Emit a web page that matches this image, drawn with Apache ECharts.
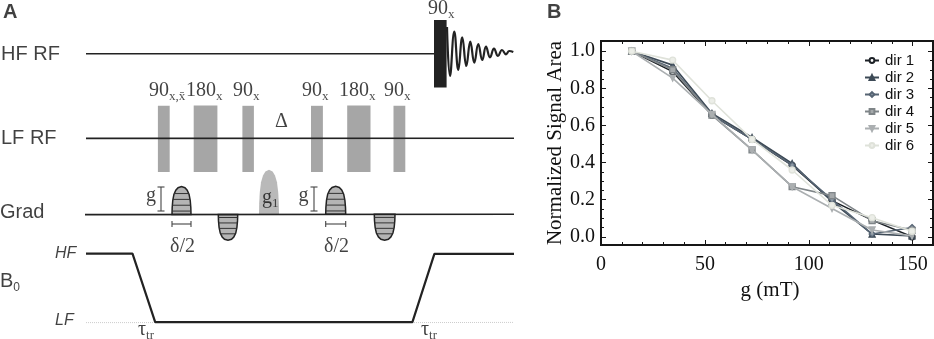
<!DOCTYPE html>
<html><head><meta charset="utf-8"><style>html,body{margin:0;padding:0;background:#fff}#c{width:934px;height:339px}</style>
<script src="https://cdn.jsdelivr.net/npm/echarts@6/dist/echarts.min.js"></script></head>
<body><div id="c"></div>
<script>
// Panel B data
const gValues = [14.8, 34.5, 53.4, 72.7, 92, 111.2, 130.5, 149.7];
const dir1 = [1, 0.89, 0.656, 0.525, 0.385, 0.195, 0.09, 0.0];
const dir2 = [1, 0.925, 0.665, 0.535, 0.395, 0.19, 0.015, 0.005];
const dir3 = [1, 0.908, 0.656, 0.525, 0.387, 0.2, 0.015, 0.05];
const dir4 = [1, 0.9, 0.656, 0.468, 0.27, 0.222, 0.087, 0.035];
const dir5 = [1, 0.855, 0.66, 0.468, 0.27, 0.153, 0.037, 0.005];
const dir6 = [1, 0.952, 0.733, 0.525, 0.36, 0.17, 0.103, 0.03];
const dirNames = ['dir 1','dir 2','dir 3','dir 4','dir 5','dir 6'];
const dirColors = ['#1c2126','#3d4a56','#566473','#7f8588','#abafb1','#dfe2da'];
const dirFills = ['#ffffff','#3d4a56','#8a97a3','#a5a9ab','#abafb1','#eceee8'];
const dirSymbols = ['circle','triangle','diamond','rect','path://M0,0L10,0L5,9Z','circle'];
const xTicks = [0,50,100,150];
const xMinor = [10,20,30,40,60,70,80,90,110,120,130,140];
const yTicks = [0,0.2,0.4,0.6,0.8,1.0];
const yMinor = [0.05,0.1,0.15,0.25,0.3,0.35,0.45,0.5,0.55,0.65,0.7,0.75,0.85,0.9,0.95];

// Panel A pulse-sequence schematic
const hfLine = [[86,53.8],[434,53.8]];
const lfLine = [[86,138.4],[514,138.2]];
const gradLine = [[85,214.6],[514,214.2]];
const b0Line = [[86,253.6],[132.5,253.6],[155.2,322.2],[412.4,322.2],[434.4,253.8],[514,253.8]];
const b0DotsL = [[86,322.6],[155,322.6]];
const b0DotsR = [[412,322.6],[514,322.4]];
const fid = [[447,27],[450,76],[454.3,31.7],[458.3,70],[462.3,37.3],[466.3,66],[470.3,41.7],[474.3,62.7],[478.3,44],[482.3,60],[486,46.7],[490,57.3],[494,48.7],[498,56],[502,50],[506,54.3],[509.3,51],[513.3,52]];
const hfPulse = [[434,446.6,20,87.5]];
const lfPulses = [[157.9,169.7,105.8,172],[193.7,217.4,105.6,172],[242.4,253.9,105.8,172],[311,322.9,105.8,172],[347.2,370.5,105.6,172],[393.5,405.3,105.8,172]];
const hatchedLobes = [[172,191,214.4,186.6],[218.3,237.7,214.4,240.3],[325.7,345.7,214.3,186.4],[374.3,395,214.3,240.3]];
const plainLobes = [[259,279,214.4,169.7]];
const lobeProfile = [[0,0],[0.01,0.25],[0.04,0.5],[0.1,0.72],[0.2,0.87],[0.32,0.96],[0.5,1],[0.68,0.96],[0.8,0.87],[0.9,0.72],[0.96,0.5],[0.99,0.25],[1,0]];
const stripeFractions = [0.12,0.33,0.54,0.75];
const brackets = [
  [[161,187],[161,211]],[[157.5,187],[164.5,187]],[[157.5,211],[164.5,211]],
  [[314,187],[314,211]],[[310.5,187],[317.5,187]],[[310.5,211],[317.5,211]],
  [[172,224],[191,224]],[[172,221],[172,227]],[[191,221],[191,227]],
  [[325.7,224],[345.7,224]],[[325.7,221],[325.7,227]],[[345.7,221],[345.7,227]]
];
const labelsA = [
  [3,12,'{b|A}'],[547,12,'{b|B}'],
  [1,53,'{t|HF RF}'],[1,137,'{t|LF RF}'],[0,211,'{t|Grad}'],[0,280,'{t|B}{ts|0}'],
  [55,253.6,'{i|HF}'],[55,321,'{i|LF}'],
  [428,8,'{m|90}{s|x}'],
  [149,90,'{m|90}{s|x,x̄}'],[186,90,'{m|180}{s|x}'],[233,90,'{m|90}{s|x}'],
  [302,90,'{m|90}{s|x}'],[339,90,'{m|180}{s|x}'],[384,90,'{m|90}{s|x}'],
  [275,121,'{m|Δ}'],
  [146,195,'{m|g}'],[298.5,195,'{m|g}'],[262,197,'{m|g}{s|1}'],
  [170,246,'{m|δ/2}'],[324,246,'{m|δ/2}'],
  [138,329,'{m|τ}{s|tr}'],[421,329,'{m|τ}{s|tr}']
];

const serif = '"Liberation Serif"', sans = '"Liberation Sans"';
const richA = {
  m:{fontFamily:serif,fontSize:20,color:'#111',lineHeight:22,verticalAlign:'bottom'},
  s:{fontFamily:serif,fontSize:13,color:'#222',lineHeight:16,verticalAlign:'bottom',padding:[0,0,-2,0]},
  t:{fontFamily:sans,fontSize:20,color:'#111',lineHeight:22,verticalAlign:'bottom'},
  ts:{fontFamily:sans,fontSize:12,color:'#111',lineHeight:16,verticalAlign:'bottom',padding:[0,0,-3,0]},
  i:{fontFamily:sans,fontStyle:'italic',fontSize:16,color:'#111'},
  b:{fontFamily:sans,fontWeight:'bold',fontSize:20,color:'#111'}
};

function profileAt(f){
  for(let i=1;i<=6;i++){
    const a=lobeProfile[i-1],b=lobeProfile[i];
    if(f<=b[1]) return a[0]+(b[0]-a[0])*(f-a[1])/(b[1]-a[1]);
  }
  return 0.5;
}
function rectItem(fill){
  return (p,api)=>{
    const a=api.coord([api.value(0),api.value(2)]),b=api.coord([api.value(1),api.value(3)]);
    return {type:'rect',shape:{x:a[0],y:a[1],width:b[0]-a[0],height:b[1]-a[1]},style:{fill}};
  };
}
function lobeItem(hatched){
  return (p,api)=>{
    const x0=api.value(0),x1=api.value(1),yb=api.value(2),yt=api.value(3);
    const pts=lobeProfile.map(q=>api.coord([x0+(x1-x0)*q[0],yb+(yt-yb)*q[1]]));
    const kids=[{type:'polygon',shape:{points:pts},style:hatched?{fill:'#b4b4b4',stroke:'#222',lineWidth:1.5}:{fill:'#b9b9b9'}}];
    if(hatched) stripeFractions.forEach(f=>{
      const w=profileAt(f);
      const a=api.coord([x0+(x1-x0)*w,yb+(yt-yb)*f]),b=api.coord([x1-(x1-x0)*w,yb+(yt-yb)*f]);
      kids.push({type:'line',shape:{x1:a[0],y1:a[1],x2:b[0],y2:b[1]},style:{stroke:'#333',lineWidth:1}});
    });
    return {type:'group',children:kids};
  };
}
function dLine(data,color,width,extra){
  return Object.assign({type:'line',xAxisIndex:2,yAxisIndex:4,data,symbol:'none',silent:true,clip:false,
    lineStyle:{color,width}},extra||{});
}
const blankAxis = {axisLabel:{show:false},axisTick:{show:false},splitLine:{show:false},axisLine:{show:false}};
const frame = {lineStyle:{color:'#161616',width:2}};
const B = {xMin:0,xMax:159.8,yMin:-0.044,yMax:1.055};
function xAx(pos,vals,len,lab){return {type:'value',gridIndex:0,position:pos,min:B.xMin,max:B.xMax,splitLine:{show:false},
  axisLine:Object.assign({show:true,onZero:false},frame),
  axisTick:{show:true,inside:true,length:len,customValues:vals,lineStyle:{color:'#161616',width:1}},
  axisLabel:lab?{show:true,customValues:vals,fontFamily:serif,fontSize:20,color:'#111',margin:10}:{show:false}};}
function yAx(pos,vals,len,lab){return {type:'value',gridIndex:0,position:pos,min:B.yMin,max:B.yMax,splitLine:{show:false},
  axisLine:Object.assign({show:true,onZero:false},frame),
  axisTick:{show:true,inside:true,length:len,customValues:vals,lineStyle:{color:'#161616',width:1}},
  axisLabel:lab?{show:true,customValues:vals,fontFamily:serif,fontSize:20,color:'#111',margin:6,formatter:v=>v.toFixed(1)}:{show:false}};}

const xMain=xAx('bottom',xTicks,5,true);
Object.assign(xMain,{name:'g (mT)',nameLocation:'middle',nameGap:35,nameTextStyle:{fontFamily:serif,fontSize:21,color:'#111',padding:[0,0,0,6]}});
const xTop=xAx('top',xTicks,5,false);
const yMain=yAx('left',yTicks,5,true);
Object.assign(yMain,{name:'Normalized Signal Area',nameLocation:'middle',nameGap:31,nameTextStyle:{fontFamily:serif,fontSize:21,color:'#111'}});
const yRight=yAx('right',yTicks,5,false);
const yMinorL=yAx('left',yMinor,3,false), yMinorR=yAx('right',yMinor,3,false);
const xMinorB=xAx('bottom',xMinor,3,false);
const xMinorT=xAx('top',xMinor,3,false);

const option = {
  animation:false,
  backgroundColor:'#fff',
  grid:[{left:601,top:41,width:332,height:204},{left:0,top:0,width:530,height:339}],
  xAxis:[xMain,xTop,
    Object.assign({type:'value',gridIndex:1,min:0,max:530},blankAxis),
    xMinorB,xMinorT],
  yAxis:[yMain,yRight,yMinorL,yMinorR,
    Object.assign({type:'value',gridIndex:1,min:0,max:339,inverse:true},blankAxis)],
  legend:{left:864,top:53,padding:0,orient:'vertical',itemWidth:14,itemHeight:6,itemGap:2,data:dirNames,
    textStyle:{fontFamily:sans,fontSize:15,lineHeight:14,height:14,color:'#111',padding:[-1,0,-1,1]},selectedMode:false},
  series:[
    dLine(hfLine,'#222',1.6),dLine(lfLine,'#222',1.6),dLine(gradLine,'#222',1.6),
    dLine(b0DotsL,'#ccc',1,{lineStyle:{color:'#ccc',width:1,type:'dotted'}}),
    dLine(b0DotsR,'#ccc',1,{lineStyle:{color:'#ccc',width:1,type:'dotted'}}),
    dLine(b0Line,'#222',2.2),
    dLine(fid,'#222',2.2,{smooth:0.45}),
    {type:'custom',xAxisIndex:2,yAxisIndex:4,data:lfPulses,renderItem:rectItem('#a6a6a6'),clip:false,silent:true},
    {type:'custom',xAxisIndex:2,yAxisIndex:4,data:hfPulse,renderItem:rectItem('#222222'),clip:false,silent:true},
    {type:'custom',xAxisIndex:2,yAxisIndex:4,data:plainLobes,renderItem:lobeItem(false),clip:false,silent:true,z:1},
    {type:'custom',xAxisIndex:2,yAxisIndex:4,data:hatchedLobes,renderItem:lobeItem(true),clip:false,silent:true},
    ...brackets.map(b=>dLine(b,'#444',1.1)),
    {type:'scatter',xAxisIndex:2,yAxisIndex:4,symbolSize:0,silent:true,clip:false,
     data:labelsA.map(l=>({value:[l[0],l[1]],text:l[2]})),
     label:{show:true,position:'right',distance:0,formatter:p=>p.data.text,rich:richA}},
    ...dirNames.map((name,i)=>({
      type:'line',name,xAxisIndex:0,yAxisIndex:0,
      data:gValues.map((g,k)=>[g,[dir1,dir2,dir3,dir4,dir5,dir6][i][k]]),
      symbol:dirSymbols[i],symbolSize:6,showSymbol:true,
      lineStyle:{color:dirColors[i],width:1.6},
      itemStyle:{color:dirFills[i],borderColor:dirColors[i],borderWidth:1.3},
      z:3+i
    }))
  ]
};
echarts.init(document.getElementById('c')).setOption(option);
</script></body></html>
